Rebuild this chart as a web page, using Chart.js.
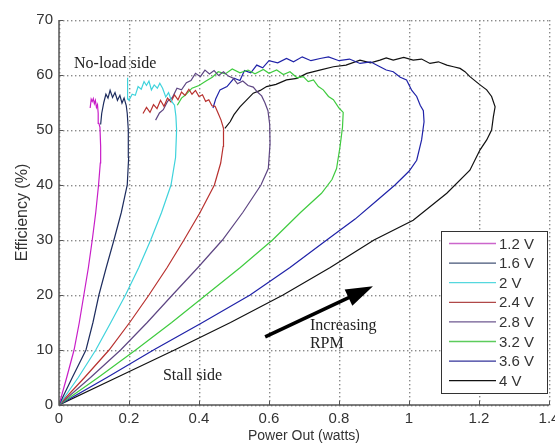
<!DOCTYPE html>
<html>
<head>
<meta charset="utf-8">
<script src="https://cdn.jsdelivr.net/npm/chart.js@4.4.0/dist/chart.umd.min.js"></script>
<style>
  html, body { margin: 0; padding: 0; background: #fff; }
  canvas { display: block; }
</style>
</head>
<body>
<canvas id="grafico" width="555" height="447"></canvas>
<script>
/* ---- ticks ---- */
const xTicks = [0, 0.2, 0.4, 0.6, 0.8, 1, 1.2, 1.4];
const yTicks = [0, 10, 20, 30, 40, 50, 60, 70];

/* ---- series (power out in W, efficiency in %) ---- */
const labels = ['1.2 V', '1.6 V', '2 V', '2.4 V', '2.8 V', '3.2 V', '3.6 V', '4 V'];

const p12 = [0, 0.022, 0.043, 0.058, 0.071, 0.084, 0.095, 0.105, 0.113, 0.118, 0.119, 0.117, 0.114, 0.112, 0.11, 0.107, 0.104, 0.101, 0.098, 0.095, 0.092, 0.089];
const e12 = [0, 5, 10, 15, 20, 25, 30, 35, 40, 44, 47, 50.5, 51.2, 53, 54.6, 54.1, 55.4, 54.8, 55.7, 55.2, 55.6, 54];

const p16 = [0, 0.038, 0.077, 0.097, 0.114, 0.135, 0.157, 0.178, 0.195, 0.199, 0.198, 0.195, 0.192, 0.186, 0.18, 0.174, 0.167, 0.16, 0.153, 0.146, 0.14, 0.134, 0.128, 0.122, 0.119];
const e16 = [0, 5, 10, 15, 20, 25, 30, 35, 40, 45, 50, 53, 54.5, 55.8, 54.9, 56.3, 55.4, 56.8, 55.9, 57.2, 55.8, 56.5, 55, 53, 51];

const p20 = [0, 0.055, 0.105, 0.148, 0.19, 0.228, 0.262, 0.293, 0.32, 0.333, 0.336, 0.334, 0.33, 0.322, 0.313, 0.305, 0.296, 0.288, 0.281, 0.272, 0.264, 0.257, 0.25, 0.243, 0.235, 0.226, 0.218, 0.209, 0.2, 0.196, 0.195, 0.197];
const e20 = [0, 5, 10, 15, 20, 25, 30, 35, 40, 45, 50, 52.5, 54.5, 55.2, 56.8, 56, 57.6, 58.5, 57.6, 58.2, 57.3, 58.9, 58.1, 58.8, 57.4, 57.9, 56.3, 56.5, 55.4, 55.8, 59.5, 55.5];

const p24 = [0, 0.073, 0.143, 0.202, 0.257, 0.309, 0.357, 0.403, 0.444, 0.462, 0.469, 0.47, 0.463, 0.455, 0.446, 0.437, 0.428, 0.419, 0.41, 0.4, 0.39, 0.38, 0.371, 0.36, 0.35, 0.34, 0.33, 0.32, 0.31, 0.3, 0.29, 0.28, 0.27, 0.26, 0.25, 0.24];
const e24 = [0, 5, 10, 15, 20, 25, 30, 35, 40, 44, 47, 50.3, 51.8, 53, 54.3, 54.4, 55.5, 55.2, 56.4, 56.1, 57.2, 56.5, 57.4, 56.3, 56.9, 55.5, 56.4, 55.1, 55.8, 54.3, 55.4, 53.9, 54.6, 53.2, 54.1, 53];

const p28 = [0, 0.09, 0.176, 0.252, 0.324, 0.397, 0.467, 0.525, 0.577, 0.598, 0.603, 0.602, 0.597, 0.588, 0.579, 0.567, 0.555, 0.54, 0.525, 0.51, 0.498, 0.484, 0.47, 0.456, 0.443, 0.43, 0.417, 0.404, 0.39, 0.377, 0.364, 0.35, 0.337, 0.324, 0.31, 0.298, 0.287, 0.276];
const e28 = [0, 5, 10, 15, 20, 25, 30, 35, 40, 43, 47.5, 51, 53.5, 55, 56.2, 56.9, 57.8, 58.1, 58.9, 58.4, 59.4, 59.8, 60.6, 59.9, 60.8, 60.2, 60.9, 59.7, 60.3, 59, 58.6, 57.3, 57.6, 55.9, 55.2, 53.7, 53.1, 51.8];

const p32 = [0, 0.112, 0.219, 0.322, 0.42, 0.518, 0.61, 0.69, 0.75, 0.78, 0.793, 0.803, 0.81, 0.812, 0.8, 0.784, 0.77, 0.755, 0.741, 0.727, 0.712, 0.698, 0.68, 0.66, 0.641, 0.622, 0.6, 0.584, 0.56, 0.54, 0.517, 0.495, 0.475, 0.455, 0.438, 0.42, 0.4, 0.38, 0.362, 0.35, 0.338];
const e32 = [0, 5, 10, 15, 20, 25, 30, 35, 38.5, 41, 43, 47, 50.5, 53.2, 54, 55.5, 56.1, 57.3, 57.9, 59.1, 58.8, 59.7, 59.5, 60.6, 60.1, 60.9, 60.3, 61, 60.2, 60.9, 60.4, 61.1, 60.2, 60.6, 59.6, 58.9, 58.1, 57.6, 56.4, 55.8, 54.5];

const p36 = [0, 0.137, 0.27, 0.41, 0.546, 0.66, 0.765, 0.846, 0.905, 0.96, 1.0, 1.022, 1.036, 1.043, 1.041, 1.032, 1.022, 1.008, 0.993, 0.975, 0.955, 0.935, 0.917, 0.89, 0.86, 0.83, 0.8, 0.77, 0.746, 0.72, 0.695, 0.67, 0.65, 0.625, 0.6, 0.582, 0.565, 0.548, 0.53, 0.517, 0.5, 0.48, 0.46, 0.448, 0.44];
const e36 = [0, 5, 10, 15, 20, 25, 30, 33.8, 37, 40, 42.5, 44.5, 48.2, 51.5, 53.5, 54.5, 56.1, 57.2, 59.1, 59.6, 60.6, 60.9, 61.5, 62.4, 62.1, 62.9, 62.6, 63.3, 63, 62.6, 63.3, 62.4, 63, 62.2, 62.6, 61.3, 61.8, 60.4, 60.8, 59, 59.4, 57.9, 57.3, 55.7, 54];

const p40 = [0, 0.165, 0.33, 0.49, 0.64, 0.775, 0.9, 1.012, 1.108, 1.174, 1.203, 1.222, 1.236, 1.241, 1.246, 1.236, 1.222, 1.203, 1.174, 1.16, 1.146, 1.127, 1.108, 1.084, 1.06, 1.036, 1.012, 0.985, 0.955, 0.935, 0.917, 0.89, 0.86, 0.82, 0.784, 0.745, 0.708, 0.68, 0.65, 0.62, 0.593, 0.575, 0.555, 0.535, 0.517, 0.5, 0.489, 0.474];
const e40 = [0, 5, 10, 15, 20, 25, 30, 33.6, 38.5, 42.7, 46.4, 48.2, 50, 52.4, 54.2, 56.1, 57.3, 58.2, 59.7, 60.6, 61.2, 61.5, 61.8, 62.4, 62.1, 62.9, 62.7, 63.2, 62.7, 63.1, 62.7, 62.2, 62.7, 61.8, 61.5, 60.9, 60.3, 59.4, 59.1, 58.3, 57.9, 57.2, 56.7, 55.4, 54.2, 52.8, 51.5, 50.3];

const potencias = [p12, p16, p20, p24, p28, p32, p36, p40];
const eficiencias = [e12, e16, e20, e24, e28, e32, e36, e40];

// cores estilo matlab (um pouco lavadas como no jpeg)
const cores = ['#c81ec8', '#1e2d5f', '#3fd3dc', '#b8312f', '#5e4683', '#3fcb3f', '#1f22a8', '#111111'];
const coresLegenda = ['#cc66cc', '#445577', '#55d8de', '#b04848', '#6e5890', '#5ccc5c', '#33339a', '#111111'];

const FONTE = '"Liberation Sans", Arial, Helvetica, sans-serif';
const SERIFA = '"Liberation Serif", "Times New Roman", serif';

/* ---- grade pontilhada estilo matlab: pontinhos desenhados um a um ---- */
const grade = {
  id: 'grade',
  beforeDatasetsDraw(chart) {
    const { ctx, chartArea: a, scales: { x, y } } = chart;
    ctx.save();
    ctx.fillStyle = '#8a8a8a';
    const passo = 4;
    xTicks.forEach(v => {
      const px = Math.round(x.getPixelForValue(v));
      for (let py = a.top; py <= a.bottom; py += passo) ctx.fillRect(px, py, 1.4, 1.4);
    });
    yTicks.forEach(v => {
      const py = Math.round(y.getPixelForValue(v));
      for (let px = a.left; px <= a.right; px += passo) ctx.fillRect(px, py, 1.4, 1.4);
    });
    ctx.restore();
  }
};

/* ---- desenho extra: eixos, ticks internos, anotações, seta, legenda ---- */
const extras = {
  id: 'extras',
  afterDatasetsDraw(chart) {
    const { ctx, chartArea: a, scales: { x, y } } = chart;
    ctx.save();

    // eixos esquerdo e inferior sólidos
    ctx.strokeStyle = '#555';
    ctx.lineWidth = 1.5;
    ctx.beginPath();
    ctx.moveTo(a.left, a.top);
    ctx.lineTo(a.left, a.bottom);
    ctx.lineTo(a.right, a.bottom);
    ctx.stroke();

    // ticks para dentro
    ctx.lineWidth = 1;
    ctx.beginPath();
    xTicks.forEach(v => {
      const px = Math.round(x.getPixelForValue(v)) + 0.5;
      ctx.moveTo(px, a.bottom);
      ctx.lineTo(px, a.bottom - 4);
    });
    yTicks.forEach(v => {
      const py = Math.round(y.getPixelForValue(v)) + 0.5;
      ctx.moveTo(a.left, py);
      ctx.lineTo(a.left + 4, py);
    });
    ctx.stroke();

    // anotações
    ctx.fillStyle = '#222';
    ctx.font = '16px ' + SERIFA;
    ctx.textAlign = 'left';
    ctx.textBaseline = 'alphabetic';
    ctx.fillText('No-load side', x.getPixelForValue(0.043), y.getPixelForValue(61.3));
    ctx.fillText('Stall side', x.getPixelForValue(0.297), y.getPixelForValue(4.5));
    ctx.fillText('Increasing', x.getPixelForValue(0.717), y.getPixelForValue(13.6));
    ctx.fillText('RPM', x.getPixelForValue(0.717), y.getPixelForValue(10.4));

    // seta
    const x0 = x.getPixelForValue(0.589), y0 = y.getPixelForValue(12.4);
    const x1 = x.getPixelForValue(0.897), y1 = y.getPixelForValue(21.6);
    const len = Math.hypot(x1 - x0, y1 - y0);
    const ux = (x1 - x0) / len, uy = (y1 - y0) / len;
    const head = 27, half = 9;
    const bx = x1 - ux * head, by = y1 - uy * head;
    ctx.strokeStyle = '#000';
    ctx.fillStyle = '#000';
    ctx.lineWidth = 3.5;
    ctx.beginPath();
    ctx.moveTo(x0, y0);
    ctx.lineTo(bx + ux * 2, by + uy * 2);
    ctx.stroke();
    ctx.beginPath();
    ctx.moveTo(x1, y1);
    ctx.lineTo(bx - uy * half, by + ux * half);
    ctx.lineTo(bx + uy * half, by - ux * half);
    ctx.closePath();
    ctx.fill();

    // legenda
    const bxR = a.right - 2, bxL = bxR - 106;
    const bxB = a.bottom - 12, bxT = bxB - 162;
    ctx.fillStyle = '#fff';
    ctx.fillRect(bxL, bxT, bxR - bxL, bxB - bxT);
    ctx.strokeStyle = '#333';
    ctx.lineWidth = 1;
    ctx.strokeRect(Math.round(bxL) + 0.5, Math.round(bxT) + 0.5, Math.round(bxR - bxL), Math.round(bxB - bxT));
    ctx.font = '15px ' + FONTE;
    ctx.textBaseline = 'middle';
    chart.data.datasets.forEach((ds, i) => {
      const ry = bxT + 12.5 + i * 19.6;
      ctx.strokeStyle = coresLegenda[i];
      ctx.lineWidth = 1.3;
      ctx.beginPath();
      ctx.moveTo(bxL + 8, ry);
      ctx.lineTo(bxL + 55, ry);
      ctx.stroke();
      ctx.fillStyle = '#333';
      ctx.fillText(ds.label, bxL + 58, ry + 1);
    });

    ctx.restore();
  }
};

const datasets = labels.map((lab, i) => ({
  label: lab,
  data: potencias[i].map((p, j) => ({ x: p, y: eficiencias[i][j] })),
  borderColor: cores[i],
  backgroundColor: cores[i],
  borderWidth: 1.2,
  pointRadius: 0,
  tension: 0,
  fill: false
}));

const gradeX = {
  type: 'linear',
  min: 0,
  max: 1.4,
  afterBuildTicks: s => { s.ticks = xTicks.map(v => ({ value: v })); },
  afterFit: s => { s.height = 42; s.paddingLeft = 0; s.paddingRight = 0; },
  ticks: {
    color: '#333',
    font: { family: FONTE, size: 15 },
    padding: 5,
    maxRotation: 0,
    autoSkip: false,
    callback: v => String(Math.round(v * 10) / 10)
  },
  grid: { display: false, drawTicks: false },
  border: { display: false },
  title: {
    display: true,
    text: 'Power Out (watts)',
    color: '#333',
    font: { family: FONTE, size: 14 },
    padding: { top: 0, bottom: 2 }
  }
};

const gradeY = {
  type: 'linear',
  min: 0,
  max: 70,
  afterBuildTicks: s => { s.ticks = yTicks.map(v => ({ value: v })); },
  afterFit: s => { s.width = 59; s.paddingTop = 0; s.paddingBottom = 0; },
  ticks: {
    color: '#333',
    font: { family: FONTE, size: 15 },
    padding: 6,
    autoSkip: false
  },
  grid: { display: false, drawTicks: false },
  border: { display: false },
  title: {
    display: true,
    text: 'Efficiency (%)',
    color: '#333',
    font: { family: FONTE, size: 16 },
    padding: { top: 13, bottom: 0 }
  }
};

new Chart(document.getElementById('grafico').getContext('2d'), {
  type: 'line',
  data: { datasets },
  options: {
    responsive: false,
    animation: false,
    devicePixelRatio: 1,
    layout: { padding: { left: 0, top: 20, right: 6, bottom: 0 } },
    scales: { x: gradeX, y: gradeY },
    plugins: {
      legend: { display: false },
      tooltip: { enabled: false }
    }
  },
  plugins: [grade, extras]
});
</script>
</body>
</html>
